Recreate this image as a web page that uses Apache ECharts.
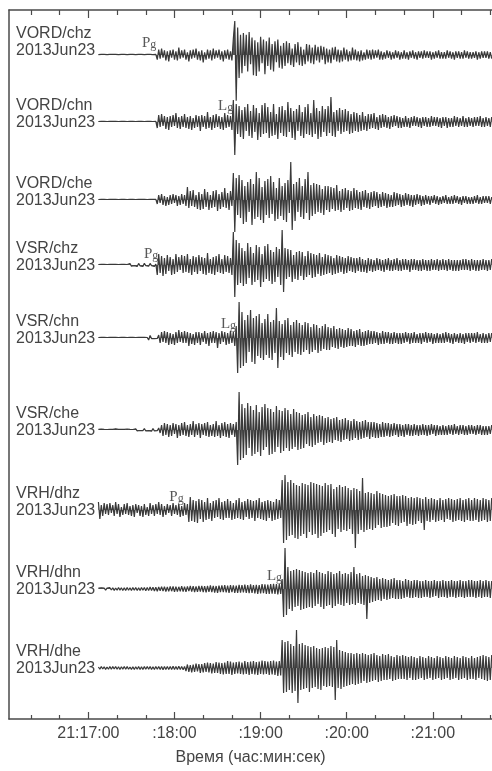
<!DOCTYPE html>
<html>
<head>
<meta charset="utf-8">
<script src="https://cdn.jsdelivr.net/npm/echarts@6/dist/echarts.min.js"></script>
<style>html,body{margin:0;padding:0;background:#fff;}#c{width:492px;height:771px;}</style>
</head>
<body>
<div id="c"></div>
<script>
// ---------- data ----------
const stations = ['VORD/chz','VORD/chn','VORD/che','VSR/chz','VSR/chn','VSR/che','VRH/dhz','VRH/dhn','VRH/dhe'];
const dateLabel = '2013Jun23';
// time axis: seconds after 21:16:00
const tickValues = [60, 120, 180, 240, 300];
const tickLabels = ['21:17:00', ':18:00', ':19:00', ':20:00', ':21:00'];
const minorTickValues = [20, 40, 80, 100, 140, 160, 200, 220, 260, 280, 320, 340];
const axisTitle = 'Время (час:мин:сек)';
// samples start at 21:17:07, one every 1 s (signed peak amplitudes)
const sampleStart = 67, sampleStep = 1;

const Q1 = [0.5,-0.6,0.7,-0.5,0.6,-0.7,0.5,-0.6,0.6,-0.5, 0.6,-0.5,0.7,-0.6,0.5,-0.6,0.7,-0.5,0.6,-0.7,
 0.5,-0.6,0.6,-0.5,0.7,-0.6,0.5,-0.7,0.6,-0.5];

const tr1 = [...Q1,
 0.6,-0.7,0.5,-0.6,0.6,-0.5,0.7,-0.6,0.5,-0.8,
 0.6,-5,6,-4,7,-3,5,-6,4,-7,
 5,-3,6,-5,4,-6,8,-4,5,-3,
 6,-5,3,-7,5,-4,6,-3,7,-5,
 4,-6,5,-8,3,-5,6,-4,5,-6,
 7,-4,5,-3,6,-5,4,-7,5,-4,
 6,-5,4,-6,18,37,-50,30,-25,22,
 -20,24,-12,22,-18,25,-10,19,-22,16,
 -23,14,-18,20,-9,17,-21,15,-12,19,
 -16,12,-18,15,-8,17,-14,10,-15,13,
 -12,15,-9,13,-11,7,-13,12,-8,14,
 -11,9,-12,6,-10,12,-7,11,-9,8,
 -10,11,-6,9,-8,10,-5,9,-10,7,
 -8,6,-9,8,-5,9,-7,6,-8,5,
 -7,8,-5,6,-7,4,-6,8,-5,6,
 -6,4,-7,5,-6,3,-5,6,-4,5,
 -5,6,-4,5,-3,6,-5,4,-5,3,
 -4,5,-3,4,-5,3,-4,5,-3,4,
 -5,3,-4,5,-4,3,-5,4,-3,5,
 -4,3,-5,4,-3,4,-4,5,-3,4,
 -3,4,-5,3,-4,4,-3,5,-4,3,
 -4,3,-4,5,-3,4,-4,3,-5,4,
 -3,4,-4,3,-4,5,-3,4,-4,3,
 -4,3,-3,4,-5,3,-4,4,-3,4,
 -3,4,-4,3,-4];

const tr2 = [...Q1,
 0.6,-0.7,0.5,-0.6,0.6,-0.5,0.7,-0.6,0.5,-0.6,
 0.6,-6,7,-5,8,-4,6,-7,5,-8,
 6,-5,7,-4,9,-6,5,-7,6,-5,
 8,-6,5,-7,6,-8,4,-6,7,-5,
 6,-9,7,-5,6,-7,10,-6,5,-8,
 7,-6,8,-5,6,-7,5,-8,9,-6,
 7,-5,6,-8,22,-33,18,-12,16,-15,
 12,-17,15,-9,18,-14,11,-16,17,-10,
 14,-18,9,-15,17,-12,19,-11,15,-16,
 10,-14,18,-13,8,-17,15,-11,16,-14,
 12,-15,20,-10,14,-16,11,-18,13,-9,
 17,-14,10,-16,15,-12,18,-13,9,-15,
 22,-12,14,-17,11,-15,16,-10,13,-14,
 16,-11,25,-14,10,-15,12,-9,14,-12,
 12,-10,13,-9,11,-12,8,-11,10,-9,
 9,-10,7,-9,10,-8,6,-9,8,-7,
 8,-6,9,-7,5,-8,7,-6,8,-5,
 7,-6,5,-7,6,-5,7,-4,6,-6,
 5,-6,4,-5,6,-5,4,-6,5,-4,
 6,-4,5,-5,4,-6,5,-4,5,-5,
 4,-5,6,-4,5,-4,5,-5,4,-6,
 5,-4,5,-6,4,-5,4,-5,6,-4,
 5,-5,4,-4,6,-5,4,-5,5,-4,
 4,-5,5,-4,5,-4,6,-5,4,-5,
 5,-4,4,-5,5];

const tr3 = [...Q1,
 0.6,-0.5,0.7,-0.6,0.5,-0.6,0.7,-0.5,0.6,-0.6,
 0.6,-4,5,-3,6,-5,4,-6,3,-5,
 5,-4,6,-3,5,-6,4,-5,6,-4,
 5,-6,13,-8,9,-6,10,-7,5,-9,
 8,-10,6,-9,11,-7,8,-10,5,-8,
 9,-7,10,-11,6,-9,8,-7,12,-8,
 7,-10,9,-6,27,-32,22,-15,25,-18,
 20,-24,14,-22,18,-12,21,-25,16,-19,
 28,-17,22,-20,13,-23,19,-15,21,-18,
 24,-14,18,-21,12,-19,22,-16,14,-20,
 17,-22,20,-13,38,-30,16,-21,18,-12,
 22,-17,14,-19,21,-13,28,-20,15,-16,
 17,-14,16,-12,15,-13,11,-15,14,-10,
 14,-12,13,-9,12,-11,15,-10,9,-12,
 11,-10,12,-8,10,-11,9,-10,12,-8,
 10,-9,8,-10,9,-7,10,-8,7,-9,
 8,-7,9,-6,8,-8,6,-7,8,-6,
 7,-8,6,-7,5,-7,8,-6,7,-5,
 6,-7,5,-6,7,-5,6,-6,5,-7,
 5,-5,6,-4,5,-6,4,-5,5,-4,
 4,-5,4,-3,5,-4,4,-5,3,-4,
 4,-3,5,-4,3,-4,4,-4,5,-3,
 4,-4,3,-5,4,-3,4,-4,3,-4,
 3,-4,4,-3,5,-4,3,-4,4,-3,
 4,-3,4,-4,3];

const tr4 = [0.5,-0.6,0.7,-0.5,0.6,-0.7,0.5,-0.6,0.6,-0.5,
 0.6,-0.5,0.7,-0.6,0.5,-0.6,0.7,-0.5,0.6,-0.7,
 0.5,-0.6,1.5,-1.2,0.7,-0.6,0.5,-1.4,1.6,-0.8,
 0.6,-1.5,1.8,-0.7,0.6,-1.2,1.6,-0.6,1.4,-1.5,
 1,-10,11,-8,9,-11,7,-9,10,-6,
 8,-10,6,-9,11,-7,8,-5,10,-8,
 9,-7,11,-8,6,-10,9,-7,8,-9,
 10,-6,8,-9,7,-10,12,-8,6,-9,
 8,-10,9,-7,11,-8,6,-9,10,-7,
 9,-8,7,-10,33,-32,25,-20,22,-18,
 17,-21,14,-19,22,-13,18,-20,12,-17,
 20,-15,18,-22,11,-17,19,-14,21,-16,
 15,-19,13,-17,18,-12,16,-20,35,-27,
 17,-14,16,-12,15,-17,10,-14,13,-15,
 14,-11,13,-15,9,-12,14,-10,12,-13,
 11,-12,10,-9,12,-11,8,-10,11,-9,
 10,-8,9,-10,7,-9,10,-8,9,-7,
 8,-9,7,-8,9,-6,8,-7,7,-8,
 7,-6,8,-7,6,-7,5,-8,7,-6,
 6,-7,5,-6,7,-5,6,-6,5,-7,
 6,-5,7,-6,5,-6,6,-5,7,-6,
 5,-6,6,-5,6,-5,5,-7,6,-5,
 6,-5,5,-6,5,-6,6,-5,5,-6,
 5,-6,6,-5,5,-5,6,-6,5,-5,
 6,-5,5,-6,6,-5,5,-6,5,-6,
 5,-6,5,-5,6,-5,6,-5,5,-6,
 6,-5,5,-6,5,-6,5,-5,6,-5,
 5,-6,5,-5,6];

const tr5 = [...Q1,
 0.6,-0.5,0.7,-0.6,0.5,-2,2.5,-0.6,0.5,-0.7,
 0.6,-0.5,3,-5,6,-4,7,-5,6,-7,
 5,-6,4,-7,6,-5,8,-4,6,-5,
 7,-5,6,-8,5,-6,4,-7,6,-5,
 6,-7,5,-4,7,-6,5,-8,6,-5,
 7,-5,6,-10,5,-6,7,-4,6,-7,
 5,-6,7,-5,6,-8,12,-35,36,-30,
 26,-28,18,-25,23,-14,28,-24,20,-26,
 22,-18,24,-20,15,-22,19,-17,24,-20,
 16,-22,18,-15,30,-30,17,-19,14,-22,
 18,-15,20,-17,13,-19,16,-14,18,-16,
 15,-17,13,-14,16,-12,15,-16,11,-14,
 14,-12,13,-15,10,-13,12,-11,14,-12,
 11,-12,10,-9,12,-10,9,-11,10,-9,
 9,-10,8,-9,10,-8,9,-8,7,-9,
 8,-7,9,-8,6,-8,7,-7,8,-6,
 7,-6,7,-5,6,-7,5,-6,7,-6,
 6,-5,6,-6,5,-6,6,-5,5,-6,
 5,-6,5,-5,6,-4,5,-6,5,-5,
 6,-5,4,-5,5,-6,5,-4,6,-5,
 5,-4,5,-6,4,-5,5,-5,4,-5,
 5,-5,6,-4,5,-5,4,-6,5,-4,
 4,-5,5,-5,4,-6,5,-4,5,-5,
 5,-4,5,-5,6,-4,4,-5,5,-5,
 4,-5,5,-4,5];

const tr6 = [0.6,-0.6,0.8,-0.5,0.6,-0.7,0.5,-0.6,0.6,-0.5,
 0.6,-0.5,1.2,-0.8,0.6,-0.6,0.7,-0.5,0.6,-0.7,
 1.0,-0.7,0.6,-0.6,0.5,-0.8,1.2,-0.9,0.6,-0.5,
 0.7,-0.6,1.5,-1.0,0.6,-0.7,0.5,-1.2,1.4,-0.8,
 0.6,-0.7,2,-3,5,-6,7,-5,6,-7,
 5,-6,7,-4,6,-8,5,-6,7,-5,
 8,-6,5,-7,6,-5,9,-7,6,-5,
 7,-8,6,-5,7,-6,8,-7,5,-6,
 6,-7,9,-6,5,-8,7,-6,8,-7,
 6,-8,7,-5,6,-7,8,-35,38,-30,
 26,-28,22,-25,27,-18,24,-26,20,-24,
 25,-22,18,-26,23,-20,26,-17,22,-25,
 21,-24,18,-22,24,-17,20,-23,19,-21,
 22,-18,20,-21,16,-19,21,-17,18,-20,
 17,-19,15,-18,16,-14,18,-16,13,-17,
 16,-15,14,-13,15,-12,14,-15,12,-13,
 13,-12,11,-13,12,-10,13,-11,10,-12,
 11,-10,12,-9,10,-11,9,-10,11,-8,
 9,-10,8,-9,9,-8,10,-7,8,-9,
 8,-7,8,-8,7,-8,6,-7,8,-7,
 7,-6,7,-7,6,-6,7,-5,6,-7,
 6,-6,5,-7,6,-5,6,-6,5,-6,
 6,-5,5,-6,5,-5,6,-5,5,-6,
 5,-5,6,-4,5,-6,5,-5,4,-5,
 5,-5,4,-5,5,-4,5,-5,6,-4,
 4,-5,5,-4,5,-5,4,-5,5,-4,
 5,-4,4,-5,5,-4,5,-5,4,-5,
 4,-5,4,-4,5];

const tr7 = [8,-9,5,-6,7,-4,6,-5,7,-3,
 5,-6,8,-4,6,-7,3,-5,6,-4,
 7,-5,4,-6,5,-7,6,-3,5,-6,
 4,-7,6,-5,3,-6,7,-4,5,-6,
 6,-4,8,-5,6,-7,4,-5,6,-3,
 5,-6,7,-4,5,-5,6,-7,4,-6,
 7,-5,6,-12,13,-11,10,-12,9,-13,
 11,-9,10,-12,8,-10,12,-9,7,-11,
 9,-8,10,-7,12,-9,8,-10,9,-8,
 11,-8,9,-10,7,-9,10,-8,12,-9,
 8,-10,9,-7,11,-9,10,-8,9,-11,
 10,-8,12,-9,8,-10,9,-11,10,-8,
 9,-11,8,-10,11,-9,10,-8,30,-33,
 35,-30,28,-26,30,-25,27,-28,25,-29,
 24,-26,27,-24,26,-28,25,-22,28,-25,
 27,-24,26,-28,25,-26,24,-23,27,-22,
 25,-20,26,-24,21,-27,23,-19,25,-22,
 23,-20,24,-21,22,-19,20,-24,22,-38,
 21,-24,19,-20,32,-22,17,-20,18,-19,
 17,-20,16,-18,19,-15,17,-18,16,-17,
 15,-17,14,-16,15,-13,16,-15,14,-16,
 14,-13,15,-12,14,-16,12,-14,13,-15,
 12,-14,13,-11,12,-13,11,-20,13,-11,
 11,-12,12,-10,11,-12,10,-11,12,-10,
 10,-12,11,-9,12,-10,11,-12,10,-11,
 11,-10,12,-11,10,-12,11,-10,12,-11,
 10,-11,12,-10,11,-12,10,-11,12,-10,
 11,-12,10,-11,12];

const tr8 = [0.8,-1,1.2,-0.8,1,-1.2,0.9,-1.1,1.3,-1,
 1.2,-1.4,1,-1.2,1.5,-1.1,1.3,-1.5,1.2,-1.4,
 1.5,-1.2,1.3,-1.6,1.4,-1.2,1.6,-1.5,1.3,-1.6,
 1.6,-1.3,1.5,-1.8,1.4,-1.6,2,-1.5,1.8,-2,
 1.7,-2.2,2,-1.8,2.4,-2,2.2,-2.5,2,-2.4,
 2.6,-2.2,2.5,-2.8,2.4,-2.6,2.2,-2.4,2.8,-2.5,
 2.4,-2.8,2.6,-2.2,3,-2.6,2.8,-3,2.5,-2.8,
 3,-2.6,3.2,-3,2.8,-3.4,3,-2.8,3.5,-3,
 3.2,-3.5,3,-3.8,3.4,-3,3.6,-3.2,3.8,-3.5,
 3.4,-3.8,4,-3.2,3.6,-4,3.5,-3.8,4.2,-3.6,
 4,-3.5,4.5,-4,3.8,-4.2,4.6,-3.8,4,-4.5,
 4.2,-4.8,4,-4.4,5,-4.2,4.6,-5,4.4,-4.8,
 5,-4.6,5.2,-4.8,5,-5.5,4.8,-5,10,-28,
 41,-26,22,-20,18,-22,19,-18,20,-17,
 19,-21,18,-20,17,-19,16,-18,17,-19,
 16,-17,19,-15,17,-18,16,-20,15,-17,
 18,-16,17,-19,15,-17,16,-15,18,-16,
 15,-17,16,-14,15,-16,17,-15,22,-16,
 15,-14,16,-15,13,-16,14,-30,13,-14,
 12,-13,11,-12,12,-11,10,-12,11,-10,
 10,-11,9,-10,10,-9,11,-10,9,-10,
 9,-10,8,-9,10,-8,9,-9,8,-9,
 9,-8,9,-9,8,-9,8,-8,9,-8,
 8,-9,8,-8,9,-7,8,-9,8,-8,
 9,-8,8,-9,8,-8,9,-8,8,-9,
 8,-8,9,-8,8,-9,8,-8,9,-8,
 9,-8,8,-9,8,-8,9,-9,8,-8,
 9,-8,8,-9,8];

const tr9 = [1,-1.2,1.5,-1,1.2,-1.4,1,-1.3,1.6,-1.2,
 1.4,-1,1.5,-1.3,1.2,-1.5,1.3,-1.1,1.5,-1.2,
 1.4,-1.3,1,-1.4,1.2,-1.5,1.3,-1.2,1.4,-1.5,
 1.2,-1.6,1.4,-1.2,1.5,-1.3,1.6,-1.4,1.2,-1.5,
 1.5,-1.3,1.6,-1.5,1.4,-1.7,1.5,-1.4,1.6,-1.5,
 1.4,-1.6,1.8,-1.5,1.6,-1.4,1.7,-1.6,1.5,-1.8,
 1.6,-3,3.5,-4,3,-4.5,3.5,-4,4.5,-3.5,
 4,-5,4,-4.5,5,-4,5.5,-4.5,5,-5.5,
 4.5,-5,6,-5,5.5,-6,5,-6.5,5.5,-6,
 7,-6,6.5,-7,5.5,-6,6,-5.5,6.5,-6,
 5.5,-6.5,7,-6,6,-7,6.5,-6,7,-6.5,
 6,-7,6.5,-6,7.5,-6.5,7,-6,6.5,-7,
 7,-6.5,7.5,-7,6.5,-8,7,-7.5,28,-25,
 26,-24,27,-22,24,-25,22,-23,38,-35,
 24,-22,25,-21,23,-20,22,-24,21,-20,
 22,-19,20,-21,19,-22,20,-18,21,-19,
 20,-18,22,-19,21,-32,28,-20,18,-21,
 17,-19,16,-18,15,-17,15,-16,14,-17,
 15,-16,14,-15,15,-13,14,-15,13,-14,
 14,-13,15,-12,13,-14,12,-13,14,-12,
 13,-12,14,-11,12,-13,11,-12,13,-11,
 12,-11,13,-11,12,-12,11,-10,12,-12,
 11,-12,10,-11,12,-10,11,-12,10,-11,
 12,-10,11,-12,10,-11,12,-10,11,-12,
 10,-11,12,-10,11,-12,10,-11,12,-10,
 11,-12,10,-11,12,-10,11,-12,10,-11,
 12,-11,10,-12,11,-10,12,-11,13,-12,
 12,-13,11,-12,13];

const traces = [tr1, tr2, tr3, tr4, tr5, tr6, tr7, tr8, tr9];

// phase picks: trace index, phase name, label time (s after 21:16:00), label height above trace
const phaseTrace = [0, 1, 3, 4, 6, 7];
const phaseName  = ['Pg', 'Lg', 'Pg', 'Lg', 'Pg', 'Lg'];
const phaseTime  = [102.3, 155.6, 103.7, 157.6, 121.4, 189.7];
const phaseLift  = [13, 16, 11, 14, 13, 13];

// ---------- layout ----------
const baselines = [50, 122, 200, 265, 338, 430, 510, 589, 668];
const gLeft = 9, gRight = -10;
const xMin = 4.7, xMax = 341.2;
const half = 60;
const ink = '#2e2e2e';
const textCol = '#444';
const sans = '"Liberation Sans", Arial, sans-serif';
const serif = '"Liberation Serif", "Times New Roman", serif';

const grid = [], xAxis = [], yAxis = [], series = [];
traces.forEach((vals, k) => {
  grid.push({left: gLeft, right: gRight, top: baselines[k] - half, height: 2 * half});
  xAxis.push({type: 'value', gridIndex: k, min: xMin, max: xMax, show: false});
  yAxis.push({type: 'value', gridIndex: k, min: -half, max: half, show: false});
  series.push({
    type: 'line', xAxisIndex: k, yAxisIndex: k,
    data: vals.map((v, i) => [sampleStart + sampleStep * i, v]),
    symbol: 'none', clip: false, silent: true,
    lineStyle: {color: '#3a3a3a', width: 1.2},
    areaStyle: {color: ink, opacity: 0.8, origin: 0}
  });
});
phaseTrace.forEach((k, j) => {
  const nm = phaseName[j];
  series.push({
    type: 'scatter', xAxisIndex: k, yAxisIndex: k, silent: true,
    symbolSize: 1, itemStyle: {color: 'rgba(0,0,0,0)'},
    data: [[phaseTime[j], phaseLift[j]]],
    label: {
      show: true, position: 'inside',
      formatter: '{a|' + nm[0] + '}{b|' + nm.slice(1) + '}',
      rich: {
        a: {fontFamily: serif, fontSize: 15, color: ink},
        b: {fontFamily: serif, fontSize: 12, color: ink, padding: [4, 0, 0, 0]}
      }
    }
  });
});

// frame grid
const F = traces.length;
grid.push({left: gLeft, right: gRight, top: 10, bottom: 48});
const frameLine = {show: true, lineStyle: {color: '#4a4a4a', width: 1.5}};
xAxis.push({
  type: 'value', gridIndex: F, position: 'bottom', min: xMin, max: xMax,
  axisLine: frameLine, splitLine: {show: false},
  axisTick: {show: true, inside: true, length: 7, customValues: tickValues, lineStyle: {color: '#4a4a4a', width: 1.2}},
  axisLabel: {show: true, customValues: tickValues, margin: 7, color: textCol, fontFamily: sans, fontSize: 16,
    formatter: v => tickLabels[tickValues.indexOf(v)] || ''},
  name: axisTitle, nameLocation: 'middle', nameGap: 31,
  nameTextStyle: {color: textCol, fontFamily: sans, fontSize: 16}
});
xAxis.push({
  type: 'value', gridIndex: F, position: 'bottom', min: xMin, max: xMax,
  axisLine: {show: false}, splitLine: {show: false}, axisLabel: {show: false},
  axisTick: {show: true, inside: true, length: 4, customValues: minorTickValues, lineStyle: {color: '#4a4a4a', width: 1.2}}
});
xAxis.push({
  type: 'value', gridIndex: F, position: 'top', min: xMin, max: xMax,
  axisLine: frameLine, splitLine: {show: false}, axisLabel: {show: false},
  axisTick: {show: true, inside: true, length: 8, customValues: tickValues, lineStyle: {color: '#4a4a4a', width: 1.2}}
});
xAxis.push({
  type: 'value', gridIndex: F, position: 'top', min: xMin, max: xMax,
  axisLine: {show: false}, splitLine: {show: false}, axisLabel: {show: false},
  axisTick: {show: true, inside: true, length: 5, customValues: minorTickValues, lineStyle: {color: '#4a4a4a', width: 1.2}}
});
yAxis.push({
  type: 'value', gridIndex: F, min: 0, max: 1, position: 'left',
  axisLine: frameLine, axisTick: {show: false}, axisLabel: {show: false}, splitLine: {show: false}
});

// station labels
const graphic = stations.map((s, k) => ({
  type: 'text', silent: true,
  style: {x: 16, y: baselines[k] - 8, text: s + '\n' + dateLabel, verticalAlign: 'middle', align: 'left',
    font: '16px ' + sans, lineHeight: 17, fill: textCol}
}));

const chart = echarts.init(document.getElementById('c'), null, {renderer: 'canvas'});
chart.setOption({animation: false, backgroundColor: '#fff', grid, xAxis, yAxis, series, graphic});
</script>
</body>
</html>
